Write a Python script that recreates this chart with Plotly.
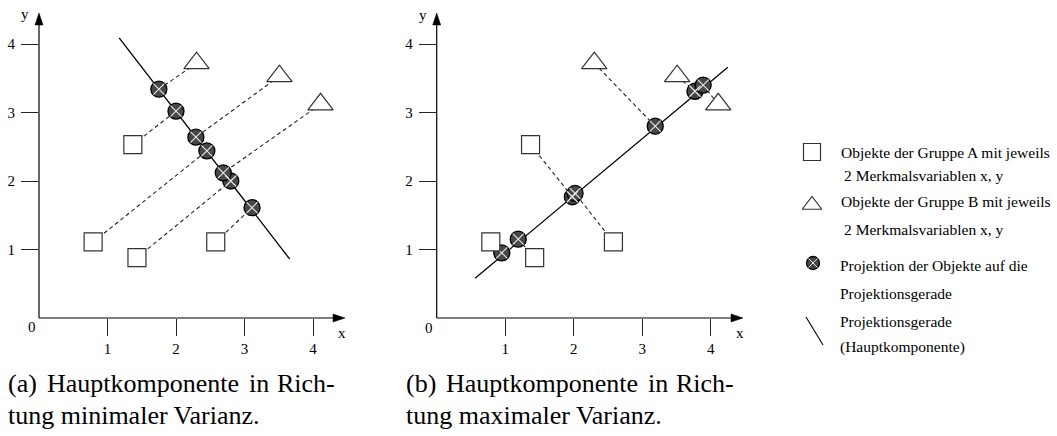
import plotly.graph_objects as go

# ---------------- data ----------------
sq_x = [0.79, 1.43, 1.37, 2.58]
sq_y = [1.11, 0.88, 2.53, 1.11]
tri_x = [2.30, 3.51, 4.11]
tri_y = [3.72, 3.53, 3.12]

# panel (a): principal component in direction of minimal variance
a_line_x = [1.17, 3.66]
a_line_y = [4.09, 0.86]
a_proj_x = [2.45, 2.80, 2.00, 3.11, 1.75, 2.29, 2.69]   # projections of sq0..sq3, tri0..tri2
a_proj_y = [2.44, 2.00, 3.02, 1.61, 3.34, 2.64, 2.12]

# panel (b): principal component in direction of maximal variance
b_line_x = [0.56, 4.25]
b_line_y = [0.58, 3.66]
b_proj_x = [0.95, 1.19, 1.98, 2.02, 3.19, 3.77, 3.89]
b_proj_y = [0.95, 1.15, 1.77, 1.82, 2.80, 3.31, 3.40]

tick_vals = [1, 2, 3, 4]

# ---------------- layout constants ----------------
W, H = 1057, 436
S = 68.5           # pixels per unit
Y0 = 318           # pixel row of y = 0
XA0, XB0 = 39, 436.7
RMAX = 4.6
FONT = "Liberation Serif"
CIRC_FILL = "#474747"

def P(px, py):
    return px / W, 1 - py / H

fig = go.Figure()

def add_panel(xa, ya, proj_x, proj_y, line_x, line_y):
    pts_x = sq_x + tri_x
    pts_y = sq_y + tri_y
    cx, cy = [], []
    for px, py, qx, qy in zip(pts_x, pts_y, proj_x, proj_y):
        cx += [px, qx, None]
        cy += [py, qy, None]
    fig.add_trace(go.Scatter(x=cx, y=cy, mode="lines", xaxis=xa, yaxis=ya,
                             line=dict(color="#222", width=1.1, dash="4px,3px"),
                             hoverinfo="skip", showlegend=False))
    fig.add_trace(go.Scatter(x=line_x, y=line_y, mode="lines", xaxis=xa, yaxis=ya,
                             line=dict(color="black", width=1.3),
                             hoverinfo="skip", showlegend=False))
    fig.add_trace(go.Scatter(x=proj_x, y=proj_y, mode="markers", xaxis=xa, yaxis=ya,
                             marker=dict(symbol="circle", size=16, color=CIRC_FILL,
                                         line=dict(color="black", width=1.3)),
                             cliponaxis=False, hoverinfo="skip", showlegend=False))
    fig.add_trace(go.Scatter(x=proj_x, y=proj_y, mode="markers", xaxis=xa, yaxis=ya,
                             marker=dict(symbol="x-thin", size=11,
                                         line=dict(color="#e8e8e8", width=1.1)),
                             cliponaxis=False, hoverinfo="skip", showlegend=False))
    fig.add_trace(go.Scatter(x=sq_x, y=sq_y, mode="markers", xaxis=xa, yaxis=ya,
                             marker=dict(symbol="square", size=18, color="white",
                                         line=dict(color="#333", width=1.2)),
                             cliponaxis=False, hoverinfo="skip", showlegend=False))
    fig.add_trace(go.Scatter(x=tri_x, y=tri_y, mode="markers", xaxis=xa, yaxis=ya,
                             marker=dict(symbol="triangle-up", size=22, color="white",
                                         line=dict(color="#333", width=1.2)),
                             cliponaxis=False, hoverinfo="skip", showlegend=False))

add_panel("x", "y", a_proj_x, a_proj_y, a_line_x, a_line_y)
add_panel("x2", "y2", b_proj_x, b_proj_y, b_line_x, b_line_y)

# legend glyphs (drawn on a pixel-scaled overlay axis)
fig.add_trace(go.Scatter(x=[812], y=[152], mode="markers", xaxis="x3", yaxis="y3",
                         marker=dict(symbol="square", size=17, color="white",
                                     line=dict(color="#333", width=1.2)),
                         hoverinfo="skip", showlegend=False))
fig.add_trace(go.Scatter(x=[812], y=[205], mode="markers", xaxis="x3", yaxis="y3",
                         marker=dict(symbol="triangle-up", size=17, color="white",
                                     line=dict(color="#333", width=1.2)),
                         hoverinfo="skip", showlegend=False))
fig.add_trace(go.Scatter(x=[813], y=[263], mode="markers", xaxis="x3", yaxis="y3",
                         marker=dict(symbol="circle", size=13, color=CIRC_FILL,
                                     line=dict(color="black", width=1.3)),
                         hoverinfo="skip", showlegend=False))
fig.add_trace(go.Scatter(x=[813], y=[263], mode="markers", xaxis="x3", yaxis="y3",
                         marker=dict(symbol="x-thin", size=9, line=dict(color="#e8e8e8", width=1.0)),
                         hoverinfo="skip", showlegend=False))

# ---------------- axes ----------------
def xaxis_cfg(x0):
    return dict(domain=[x0 / W, (x0 + RMAX * S) / W], range=[0, RMAX],
                tickvals=tick_vals, ticks="outside", ticklen=17, tickwidth=1,
                tickcolor="#222", showline=False, showgrid=False, zeroline=False,
                tickfont=dict(family=FONT, size=15, color="black"), fixedrange=True)

def yaxis_cfg(anchor):
    return dict(domain=[1 - Y0 / H, 1 - (Y0 - RMAX * S) / H], range=[0, RMAX],
                tickvals=tick_vals, ticks="outside", ticklen=17, tickwidth=1,
                tickcolor="#222", showline=False, showgrid=False, zeroline=False,
                ticklabelstandoff=3,
                tickfont=dict(family=FONT, size=15, color="black"), anchor=anchor,
                fixedrange=True)

shapes = []
annotations = []

def axis_arrows(x0, xtip, ytip, xlab, ylab, zlab):
    ax0, ay0 = P(x0, Y0)
    ax1, _ = P(xtip - 10, Y0)
    _, ay1 = P(x0, ytip + 10)
    shapes.append(dict(type="line", xref="paper", yref="paper", x0=ax0, y0=ay0, x1=ax1, y1=ay0,
                       line=dict(color="black", width=1.2)))
    shapes.append(dict(type="line", xref="paper", yref="paper", x0=ax0, y0=ay0, x1=ax0, y1=ay1,
                       line=dict(color="black", width=1.2)))
    pts = [P(xtip, Y0), P(xtip - 12, Y0 - 4), P(xtip - 12, Y0 + 4)]
    shapes.append(dict(type="path", xref="paper", yref="paper",
                       path="M{},{} L{},{} L{},{} Z".format(*[c for p in pts for c in p]),
                       fillcolor="black", line=dict(color="black", width=0.5)))
    pts = [P(x0, ytip), P(x0 - 4, ytip + 12), P(x0 + 4, ytip + 12)]
    shapes.append(dict(type="path", xref="paper", yref="paper",
                       path="M{},{} L{},{} L{},{} Z".format(*[c for p in pts for c in p]),
                       fillcolor="black", line=dict(color="black", width=0.5)))
    for txt, (px, py) in (("x", xlab), ("y", ylab), ("0", zlab)):
        annotations.append(dict(text=txt, x=px, y=py, xref="x3", yref="y3",
                                showarrow=False, xanchor="center", yanchor="middle",
                                font=dict(family=FONT, size=15, color="black")))

axis_arrows(XA0, 345, 13, (342, 333), (25, 14), (32, 327))
axis_arrows(XB0, 743, 13, (740, 333), (423, 15), (429, 328))

# legend text
legend_lines = [
    ("Objekte der Gruppe A mit jeweils", 839, 152),
    ("2 Merkmalsvariablen x, y", 842, 175),
    ("Objekte der Gruppe B mit jeweils", 839, 201),
    ("2 Merkmalsvariablen x, y", 842, 229),
    ("Projektion der Objekte auf die", 838, 265),
    ("Projektionsgerade", 838, 293),
    ("Projektionsgerade", 838, 321),
    ("(Hauptkomponente)", 838, 347),
]
for txt, px, py in legend_lines:
    annotations.append(dict(text=txt, x=px, y=py, xref="x3", yref="y3", showarrow=False,
                            xanchor="left", yanchor="middle",
                            font=dict(family=FONT, size=15.5, color="black")))
x0p, y0p = P(806, 317)
x1p, y1p = P(823, 345)
shapes.append(dict(type="line", xref="paper", yref="paper", x0=x0p, y0=y0p, x1=x1p, y1=y1p,
                   line=dict(color="black", width=1.1)))

# captions (justified first line)
caption_words = [
    ("(a)", 7, "left", 383), ("Hauptkomponente", 46, "left", 383), ("in", 248, "left", 383),
    ("Rich-", 336, "right", 383), ("tung minimaler Varianz.", 7, "left", 415),
    ("(b)", 405, "left", 383), ("Hauptkomponente", 445, "left", 383), ("in", 647, "left", 383),
    ("Rich-", 735, "right", 383), ("tung maximaler Varianz.", 405, "left", 415),
]
for txt, px, anc, py in caption_words:
    annotations.append(dict(text=txt, x=px, y=py, xref="x3", yref="y3", showarrow=False,
                            xanchor=anc, yanchor="middle", borderpad=0,
                            font=dict(family=FONT, size=26, color="black")))

fig.update_layout(
    width=W, height=H, autosize=False,
    margin=dict(l=0, r=0, t=0, b=0),
    paper_bgcolor="white", plot_bgcolor="rgba(0,0,0,0)",
    xaxis=xaxis_cfg(XA0), yaxis=yaxis_cfg("x"),
    xaxis2=xaxis_cfg(XB0), yaxis2=yaxis_cfg("x2"),
    xaxis3=dict(domain=[0, 1], range=[0, W], visible=False, anchor="y3", fixedrange=True),
    yaxis3=dict(domain=[0, 1], range=[H, 0], visible=False, anchor="x3", fixedrange=True),
    shapes=shapes, annotations=annotations, showlegend=False,
)

fig.write_html("out.html")
